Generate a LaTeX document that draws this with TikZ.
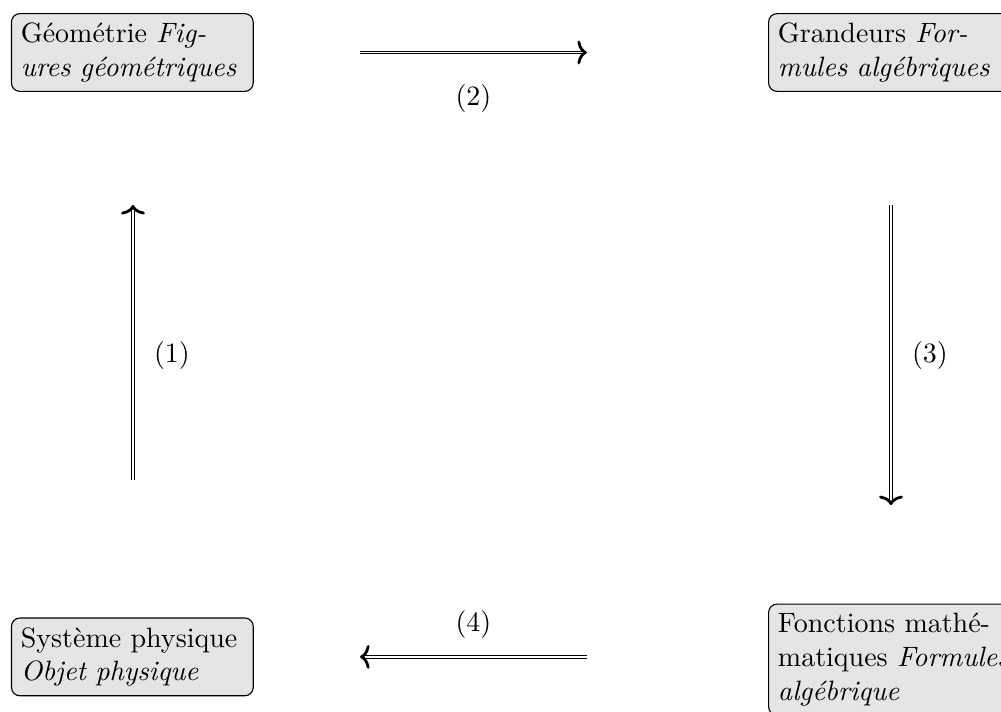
\documentclass[tikz,border=0pt]{standalone}
\usepackage{tikz}
\usetikzlibrary{positioning,arrows.meta}

\begin{document}
\begin{tikzpicture}[
						x=1pt, y=1pt,
						% boîtes grises arrondies
						boite/.style={
							rectangle, rounded corners=3pt, draw=black, fill=gray!20,
							text width=2.8cm, align=left, anchor=west
						},
						% flèches à double trait
						fleche/.style={
							double, -{To[width=8.5pt, length=3.4pt, line width=1pt]}
						},
						% numéros des flèches
						etiq/.style={inner sep=3.33pt}
						]
						\useasboundingbox (0,0) rectangle (357.5,-254);
						
						% Les quatre boîtes
						\node[boite] (geo) at (3.9,-18.75) {Géométrie \textit{Fig-}\\\textit{ures géométriques}};
						\node[boite] (gra) at (274.3,-18.75) {Grandeurs \textit{For-}\\\textit{mules algébriques}};
						\node[boite] (sys) at (3.9,-234.6) {Système physique\\\textit{Objet physique}};
						\node[boite] (fon) at (274.3,-235.6) {Fonctions mathé-\\\mbox{matiques \textit{Formules}}\\\textit{algébrique}};
						
						% Extrémités des flèches
						\coordinate (c1) at (47.5,-171.4);
						\coordinate (c2) at (47.5,-73.2);
						\coordinate (c3) at (128.6,-18.75);
						\coordinate (c4) at (209.6,-18.75);
						\coordinate (c5) at (318.2,-73.2);
						\coordinate (c6) at (318.2,-180.4);
						\coordinate (c7) at (209.6,-234.6);
						\coordinate (c8) at (128.6,-234.6);
						
						% Les flèches (1) à (4)
						\draw[fleche] (c1) -- node[etiq, pos=0.454, right=4pt] (e1) {(1)} (c2);
						\draw[fleche] (c3) -- node[etiq, below=8pt] (e2) {(2)} (c4);
						\draw[fleche] (c5) -- node[etiq, right=4pt] (e3) {(3)} (c6);
						\draw[fleche] (c7) -- node[etiq, above=3pt] (e4) {(4)} (c8);
						
					\end{tikzpicture}
\end{document}
